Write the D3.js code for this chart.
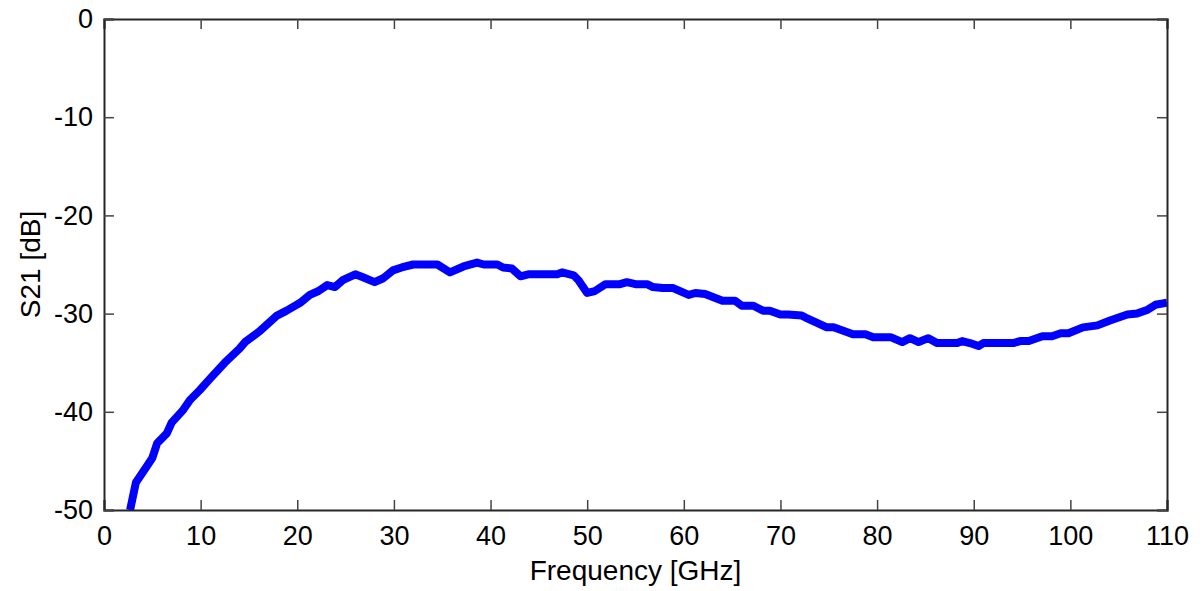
<!DOCTYPE html>
<html>
<head>
<meta charset="utf-8">
<script src="https://cdn.jsdelivr.net/npm/d3@7"></script>
<style>
  html, body { margin: 0; padding: 0; background: #fff; }
  svg { display: block; font-family: "Liberation Sans", Arial, sans-serif; }
</style>
</head>
<body>
<svg id="chart" width="1204" height="591"></svg>
<script>
const freqGHz = [2.7, 3.3, 4.4, 5.0, 5.5, 6.5, 7.0, 8.2, 8.9, 9.9, 11.0, 12.5, 14.0, 14.6, 16.1,
  17.9, 18.9, 20.3, 21.3, 22.2, 23.1, 23.9, 24.7, 26.0, 26.8, 28.0, 28.9, 29.9, 30.8, 32.0,
  34.5, 35.8, 37.2, 38.6, 39.3, 40.7, 41.3, 42.2, 43.1, 43.9, 46.9, 47.4, 48.6, 49.1, 50.0,
  50.8, 51.9, 53.4, 54.1, 55.0, 56.2, 56.8, 57.8, 58.9, 60.5, 61.2, 62.2, 64.0, 65.3, 66.0,
  67.2, 68.2, 68.9, 70.0, 70.8, 72.2, 72.6, 74.8, 75.5, 77.5, 78.8, 79.6, 81.4, 82.6, 83.4,
  84.3, 85.3, 86.2, 88.3, 88.8, 89.6, 90.5, 91.0, 94.1, 94.8, 95.7, 97.1, 98.1, 99.0, 99.8,
  101.3, 102.8, 104.1, 105.9, 106.9, 108.0, 108.8, 110.0];
const s21dB = [-50.0, -47.2, -45.6, -44.7, -43.2, -42.2, -41.1, -39.8, -38.8, -37.8, -36.6, -35.0, -33.6, -32.9, -31.8,
  -30.2, -29.7, -28.9, -28.1, -27.7, -27.1, -27.3, -26.6, -26.0, -26.3, -26.8, -26.4, -25.6, -25.3, -25.0,
  -25.0, -25.8, -25.2, -24.8, -25.0, -25.0, -25.3, -25.4, -26.2, -26.0, -26.0, -25.8, -26.1, -26.6, -27.9,
  -27.7, -27.0, -27.0, -26.8, -27.0, -27.0, -27.3, -27.4, -27.4, -28.1, -27.9, -28.0, -28.7, -28.7, -29.2,
  -29.2, -29.7, -29.7, -30.1, -30.1, -30.2, -30.4, -31.4, -31.4, -32.1, -32.1, -32.4, -32.4, -32.9, -32.5,
  -32.9, -32.5, -33.0, -33.0, -32.8, -33.0, -33.3, -33.0, -33.0, -32.8, -32.8, -32.3, -32.3, -32.0, -32.0,
  -31.4, -31.2, -30.7, -30.1, -30.0, -29.6, -29.1, -28.9];

const xTicks = [0, 10, 20, 30, 40, 50, 60, 70, 80, 90, 100, 110];
const yTicks = [0, -10, -20, -30, -40, -50];

const margin = { left: 104, top: 19, right: 1204 - 1167, bottom: 591 - 510 };
const width = 1204 - margin.left - margin.right;
const height = 591 - margin.top - margin.bottom;

const svg = d3.select("#chart");
const g = svg.append("g").attr("transform", `translate(${margin.left},${margin.top})`);

const x = d3.scaleLinear().domain([0, 110]).range([0, width]);
const y = d3.scaleLinear().domain([-50, 0]).range([height, 0]);

g.append("defs").append("clipPath").attr("id", "clip")
  .append("rect").attr("width", width).attr("height", height);

// data line
const pts = freqGHz.map((f, i) => [f, s21dB[i]]);
g.append("path")
  .datum(pts)
  .attr("clip-path", "url(#clip)")
  .attr("fill", "none")
  .attr("stroke", "#0000ff")
  .attr("stroke-width", 8)
  .attr("stroke-linejoin", "round")
  .attr("d", d3.line().x(d => x(d[0])).y(d => y(d[1])));

// axes, MATLAB style: ticks inward on all four sides
const tickLen = 10;
const tickFont = 27;
const titleFont = 28;
const plain = d => String(d); // hyphen minus like the original

const axBottom = g.append("g").attr("transform", `translate(0,${height})`)
  .call(d3.axisBottom(x).tickValues(xTicks).tickSize(-tickLen).tickPadding(16).tickFormat(plain));
const axTop = g.append("g")
  .call(d3.axisTop(x).tickValues(xTicks).tickSize(-tickLen).tickFormat(""));
const axLeft = g.append("g")
  .call(d3.axisLeft(y).tickValues(yTicks).tickSize(-tickLen).tickPadding(11).tickFormat(plain));
const axRight = g.append("g").attr("transform", `translate(${width},0)`)
  .call(d3.axisRight(y).tickValues(yTicks).tickSize(-tickLen).tickFormat(""));

[axBottom, axTop, axLeft, axRight].forEach(ax => {
  ax.select(".domain").attr("stroke", "#262626").attr("stroke-width", 2);
  ax.selectAll(".tick line").attr("stroke", "#444").attr("stroke-width", 1.5);
  ax.selectAll(".tick text")
    .attr("fill", "#000")
    .style("font-family", "'Liberation Sans', Arial, sans-serif")
    .style("font-size", tickFont + "px");
});

// axis titles
svg.append("text")
  .attr("x", margin.left + width / 2)
  .attr("y", 580)
  .attr("text-anchor", "middle")
  .style("font-size", titleFont + "px")
  .text("Frequency [GHz]");

svg.append("text")
  .attr("transform", `translate(40,${margin.top + height / 2}) rotate(-90)`)
  .attr("text-anchor", "middle")
  .style("font-size", titleFont + "px")
  .text("S21 [dB]");
</script>
</body>
</html>
